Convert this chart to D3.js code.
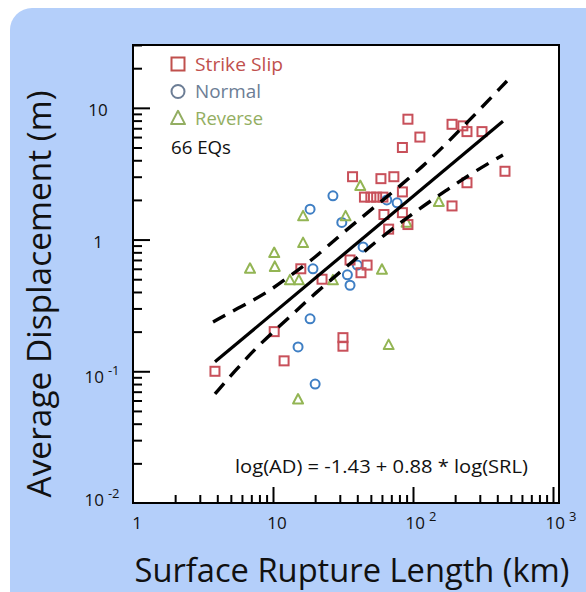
<!DOCTYPE html>
<html>
<head>
<meta charset="utf-8">
<script src="https://cdn.jsdelivr.net/npm/d3@7"></script>
<style>
  html, body { margin: 0; padding: 0; background: #fff; }
  svg { display: block; font-family: 'Open Sans', 'Noto Sans', sans-serif; }
</style>
</head>
<body>
<svg id="chart" width="586" height="592"></svg>
<script>
// data: surface rupture length (km) vs average displacement (m)
const strikeSlipSRL = [92, 190, 227, 243, 311, 112, 84, 454, 243, 190, 37, 59, 73, 45, 50, 55, 61, 84, 84, 62, 67, 92, 35.5, 47, 42.5, 15.8, 22.4, 10.2, 31.6, 31.6, 12, 3.85];
const strikeSlipAD = [8.2, 7.5, 7.3, 6.6, 6.6, 6.0, 5.0, 3.3, 2.7, 1.8, 3.0, 2.9, 3.0, 2.1, 2.1, 2.1, 2.1, 2.3, 1.6, 1.55, 1.2, 1.3, 0.70, 0.64, 0.56, 0.60, 0.50, 0.20, 0.18, 0.155, 0.12, 0.10];

const normalSRL = [26.8, 18.4, 31, 65, 77, 44, 40, 34, 35.5, 19.3, 18.4, 15.1, 20];
const normalAD = [2.15, 1.7, 1.35, 2.0, 1.9, 0.88, 0.64, 0.54, 0.45, 0.60, 0.25, 0.153, 0.08];

const reverseSRL = [42, 33, 16.4, 153, 90, 16.4, 10.2, 10.3, 6.85, 13.2, 15.3, 26.8, 60, 67, 15.1];
const reverseAD = [2.55, 1.5, 1.5, 1.93, 1.34, 0.94, 0.79, 0.62, 0.60, 0.49, 0.49, 0.49, 0.59, 0.158, 0.061];

// regression line and its dashed bands
const fitSRL = [3.85, 439];
const fitAD = [0.118, 7.9];
const upperBandSRL = [3.73, 6.01, 9.06, 13.2, 20.3, 29.1, 55.3, 118, 228, 469];
const upperBandAD = [0.237, 0.313, 0.394, 0.530, 0.738, 1.05, 1.83, 3.56, 7.16, 16.0];
const lowerBandSRL = [3.85, 5.35, 7.2, 10, 14.4, 19.3, 32.7, 58.1, 118, 175, 264, 439];
const lowerBandAD = [0.0673, 0.1005, 0.1425, 0.199, 0.282, 0.379, 0.608, 1.03, 1.80, 2.38, 3.20, 4.39];

const xTickValues = [1, 10, 100, 1000];
const xTickBase = ['1', '10', '10', '10'];
const xTickSup = ['', '', '2', '3'];
const yTickValues = [10, 1, 0.1, 0.01];
const yTickBase = ['10', '1', '10', '10'];
const yTickSup = ['', '', '-1', '-2'];

const legendNames = ['Strike Slip', 'Normal', 'Reverse'];
const equationText = 'log(AD) = -1.43 + 0.88 * log(SRL)';
const countText = '66 EQs';

const svg = d3.select('#chart');

const colors = {
  panel: '#b4cffa',
  ss: '#c8505a',
  nm: '#3f7fc4',
  rv: '#93b554',
  ssText: '#c0504d',
  nmText: '#6c7d95',
  rvText: '#93ae62'
};

// blue rounded panel
svg.append('rect')
  .attr('x', 10).attr('y', 8)
  .attr('width', 600).attr('height', 620)
  .attr('rx', 22)
  .attr('fill', colors.panel);

const plot = {left: 133, top: 45, right: 559, bottom: 503};

const x = d3.scaleLog().domain([1, 1000]).range([plot.left, 553]);
const y = d3.scaleLog().domain([0.01, 30]).range([plot.bottom, plot.top]);

svg.append('rect')
  .attr('x', plot.left).attr('y', plot.top)
  .attr('width', plot.right - plot.left).attr('height', plot.bottom - plot.top)
  .attr('fill', '#fff');

// ticks, pointing inward
const minor = (lo, hi) => {
  const out = [];
  for (let d = lo; d < hi; d *= 10) {
    for (let m = 2; m <= 9; m++) {
      out.push(d * m);
    }
  }
  return out;
};

const yMinor = minor(0.01, 30).filter(v => v <= 30);
const xMinor = minor(1, 1000);

const drawAxis = (axis, transform) => {
  const g = svg.append('g').attr('transform', transform).call(axis);
  g.select('.domain').remove();
  g.selectAll('.tick line').attr('stroke', '#000').attr('stroke-width', 2);
  g.selectAll('.tick text').remove();
};

drawAxis(d3.axisRight(y).tickValues([0.1, 1, 10]).tickSize(17), `translate(${plot.left},0)`);
drawAxis(d3.axisRight(y).tickValues(yMinor).tickSize(9), `translate(${plot.left},0)`);
drawAxis(d3.axisTop(x).tickValues([10, 100, 1000]).tickSize(16), `translate(0,${plot.bottom})`);
drawAxis(d3.axisTop(x).tickValues(xMinor).tickSize(8), `translate(0,${plot.bottom})`);

// frame
svg.append('rect')
  .attr('x', plot.left).attr('y', plot.top)
  .attr('width', plot.right - plot.left).attr('height', plot.bottom - plot.top)
  .attr('fill', 'none')
  .attr('stroke', '#000')
  .attr('stroke-width', 2);

// tick labels
const tickLabel = (px, py, base, sup) => {
  const t = svg.append('text')
    .attr('x', px).attr('y', py)
    .attr('text-anchor', 'middle')
    .attr('font-size', 17)
    .attr('fill', '#111');
  t.append('tspan').text(base);
  if (sup) {
    t.append('tspan')
      .attr('dx', 4).attr('dy', -8)
      .attr('font-size', 13)
      .text(sup);
  }
};

yTickValues.forEach((v, i) => {
  const dy = v === 0.01 ? 3 : (v === 0.1 ? 12 : 8);
  tickLabel(yTickSup[i] ? 102 : 98, y(v) + dy, yTickBase[i], yTickSup[i]);
});
xTickValues.forEach((v, i) => {
  tickLabel(x(v) + (xTickSup[i] ? 8 : 4), 529, xTickBase[i], xTickSup[i]);
});

// axis titles
svg.append('text')
  .attr('x', 352).attr('y', 582)
  .attr('text-anchor', 'middle')
  .attr('font-size', 32)
  .attr('fill', '#111')
  .attr('textLength', 435)
  .attr('lengthAdjust', 'spacingAndGlyphs')
  .text('Surface Rupture Length (km)');

svg.append('text')
  .attr('transform', 'translate(51,294) rotate(-90)')
  .attr('text-anchor', 'middle')
  .attr('font-size', 33)
  .attr('fill', '#111')
  .attr('textLength', 407)
  .attr('lengthAdjust', 'spacingAndGlyphs')
  .text('Average Displacement (m)');

// markers
const square = (g, cx, cy, s, color) => g.append('rect')
  .attr('x', cx - s / 2).attr('y', cy - s / 2)
  .attr('width', s).attr('height', s)
  .attr('fill', 'none').attr('stroke', color).attr('stroke-width', 2);
const circle = (g, cx, cy, s, color) => g.append('circle')
  .attr('cx', cx).attr('cy', cy).attr('r', s / 2)
  .attr('fill', 'none').attr('stroke', color).attr('stroke-width', 2);
const triangle = (g, cx, cy, s, color) => g.append('path')
  .attr('d', `M${cx},${cy - s * 0.55}L${cx + s / 2},${cy + s * 0.4}L${cx - s / 2},${cy + s * 0.4}Z`)
  .attr('fill', 'none').attr('stroke', color).attr('stroke-width', 2)
  .attr('stroke-linejoin', 'round');

const pts = svg.append('g');
normalSRL.forEach((v, i) => circle(pts, x(v), y(normalAD[i]), 9, colors.nm));
reverseSRL.forEach((v, i) => triangle(pts, x(v), y(reverseAD[i]), 10, colors.rv));
strikeSlipSRL.forEach((v, i) => square(pts, x(v), y(strikeSlipAD[i]), 9, colors.ss));

// regression lines
const pairs = (xs, ys) => xs.map((v, i) => [v, ys[i]]);

svg.append('path')
  .datum(pairs(fitSRL, fitAD))
  .attr('d', d3.line().x(d => x(d[0])).y(d => y(d[1])))
  .attr('fill', 'none').attr('stroke', '#000').attr('stroke-width', 3.2);

const bandLine = d3.line().x(d => x(d[0])).y(d => y(d[1])).curve(d3.curveBasis);
[pairs(upperBandSRL, upperBandAD), pairs(lowerBandSRL, lowerBandAD)].forEach(d => {
  svg.append('path')
    .datum(d)
    .attr('d', bandLine)
    .attr('fill', 'none').attr('stroke', '#000').attr('stroke-width', 3.4)
    .attr('stroke-dasharray', '14,9');
});

// legend
const legendText = [colors.ssText, colors.nmText, colors.rvText];
const legendShapes = [square, circle, triangle];
const legendY = [64, 91.5, 118.5];
const legendWidth = [88, 66, 68];
legendNames.forEach((name, i) => {
  legendShapes[i](svg, 178, legendY[i], i === 2 ? 14 : 13, legendText[i]);
  svg.append('text')
    .attr('x', 195).attr('y', legendY[i] + 6.5)
    .attr('font-size', 19)
    .attr('fill', legendText[i])
    .attr('textLength', legendWidth[i])
    .attr('lengthAdjust', 'spacingAndGlyphs')
    .text(name);
});
svg.append('text')
  .attr('x', 171).attr('y', 154)
  .attr('font-size', 19)
  .attr('fill', '#111')
  .attr('textLength', 60)
  .attr('lengthAdjust', 'spacingAndGlyphs')
  .text(countText);

svg.append('text')
  .attr('x', 235).attr('y', 473)
  .attr('font-size', 19)
  .attr('fill', '#111')
  .attr('textLength', 293)
  .attr('lengthAdjust', 'spacingAndGlyphs')
  .text(equationText);
</script>
</body>
</html>
